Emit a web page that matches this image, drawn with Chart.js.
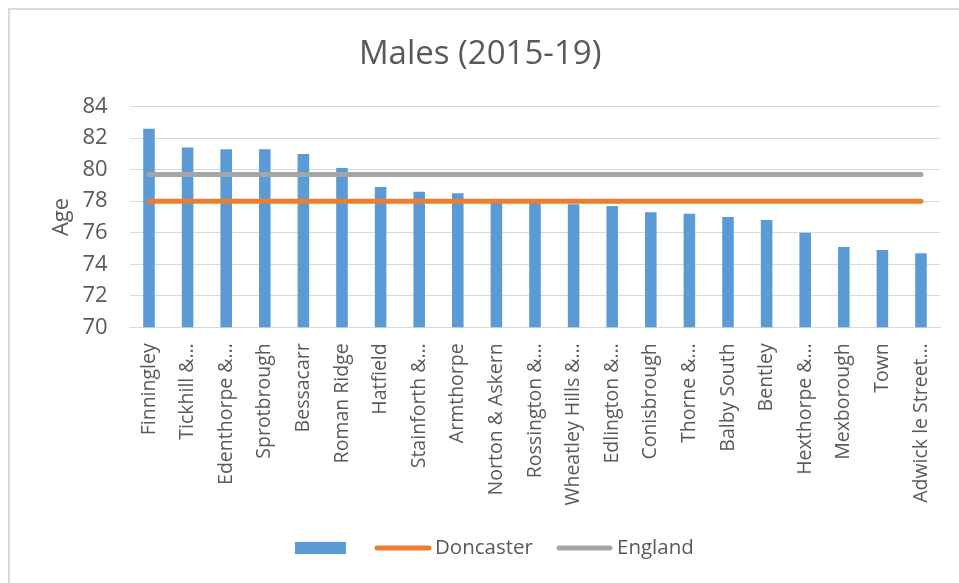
<!DOCTYPE html>
<html>
<head>
<meta charset="utf-8">
<script src="https://cdn.jsdelivr.net/npm/chart.js@4"></script>
<style>
  html, body { margin: 0; padding: 0; background: #fff; }
  #wrap { position: relative; width: 959px; height: 583px; }
</style>
</head>
<body>
<div id="wrap"><canvas id="c"></canvas></div>
<script>
const wards = ["Finningley", "Tickhill &…", "Edenthorpe &…", "Sprotbrough", "Bessacarr", "Roman Ridge", "Hatfield", "Stainforth &…", "Armthorpe", "Norton & Askern", "Rossington &…", "Wheatley Hills &…", "Edlington &…", "Conisbrough", "Thorne &…", "Balby South", "Bentley", "Hexthorpe &…", "Mexborough", "Town", "Adwick le Street…"];
const wardValues = [82.6, 81.4, 81.3, 81.3, 81.0, 80.1, 78.9, 78.6, 78.5, 78.0, 78.0, 77.8, 77.7, 77.3, 77.2, 77.0, 76.8, 76.0, 75.1, 74.9, 74.7];
const doncasterValue = 78.0;
const englandValue = 79.7;
const doncasterLine = wards.map(() => doncasterValue);
const englandLine = wards.map(() => englandValue);
const yTicks = [70, 72, 74, 76, 78, 80, 82, 84];

const FONT = "'Open Sans', sans-serif";
const TXT = '#595959';
const BLUE = '#5B9BD5', ORANGE = '#ED7D31', GREY = '#A5A5A5';

const frame = {
  id: 'frame',
  beforeDraw(chart) {
    const ctx = chart.ctx;
    ctx.save();
    ctx.strokeStyle = '#d9d9d9';
    ctx.lineWidth = 2;
    ctx.strokeRect(9, 9, 2000, 2000);
    ctx.restore();
  }
};

const legendPlugin = {
  id: 'customLegend',
  afterDraw(chart) {
    const ctx = chart.ctx;
    const y = 548;
    ctx.save();
    ctx.fillStyle = BLUE;
    ctx.fillRect(295, 542, 51, 12);
    ctx.lineCap = 'round';
    ctx.lineWidth = 5;
    ctx.strokeStyle = ORANGE;
    ctx.beginPath(); ctx.moveTo(377, y); ctx.lineTo(429, y); ctx.stroke();
    ctx.strokeStyle = GREY;
    ctx.beginPath(); ctx.moveTo(559, y); ctx.lineTo(610, y); ctx.stroke();
    ctx.fillStyle = TXT;
    ctx.font = "20.5px " + FONT;
    ctx.textBaseline = 'middle';
    ctx.textAlign = 'left';
    ctx.fillText(chart.data.datasets[1].label, 435, y);
    ctx.fillText(chart.data.datasets[2].label, 617, y);
    ctx.restore();
  }
};

new Chart(document.getElementById('c'), {
  data: {
    labels: wards,
    datasets: [
      { type: 'bar', label: '', data: wardValues, backgroundColor: BLUE, order: 2,
        categoryPercentage: 1.0, barPercentage: 0.3 },
      { type: 'line', label: 'Doncaster', data: doncasterLine, borderColor: ORANGE, backgroundColor: ORANGE,
        borderWidth: 5, pointRadius: 0, borderCapStyle: 'round', order: 1 },
      { type: 'line', label: 'England', data: englandLine, borderColor: GREY, backgroundColor: GREY,
        borderWidth: 5, pointRadius: 0, borderCapStyle: 'round', order: 0 }
    ]
  },
  options: {
    responsive: true,
    maintainAspectRatio: false,
    animation: false,
    layout: { padding: { left: 20, right: 18.7, top: 0, bottom: 70.7 } },
    plugins: {
      legend: { display: false },
      tooltip: { enabled: false },
      title: {
        display: true, text: 'Males (2015-19)', color: TXT,
        font: { family: FONT, size: 33, weight: 'normal' },
        padding: { top: 35, bottom: 32 }
      }
    },
    scales: {
      x: {
        grid: { display: false },
        border: { display: true, color: '#d9d9d9', width: 1 },
        ticks: { color: TXT, font: { family: FONT, size: 19.5 }, minRotation: 90, maxRotation: 90, autoSkip: false, padding: 8 },
        afterFit(s) { s.height = 185; }
      },
      y: {
        min: 70, max: 84,
        afterBuildTicks(s) { s.ticks = yTicks.map(v => ({ value: v })); },
        grid: { color: '#d9d9d9', lineWidth: 1, drawTicks: false },
        border: { display: false },
        ticks: { color: TXT, font: { family: FONT, size: 22 }, padding: 22 },
        title: { display: true, text: 'Age', color: TXT, font: { family: FONT, size: 22 }, padding: { top: 29, bottom: 0 } },
        afterFit(s) { s.width = 109.7; }
      }
    }
  },
  plugins: [frame, legendPlugin]
});
</script>
</body>
</html>
